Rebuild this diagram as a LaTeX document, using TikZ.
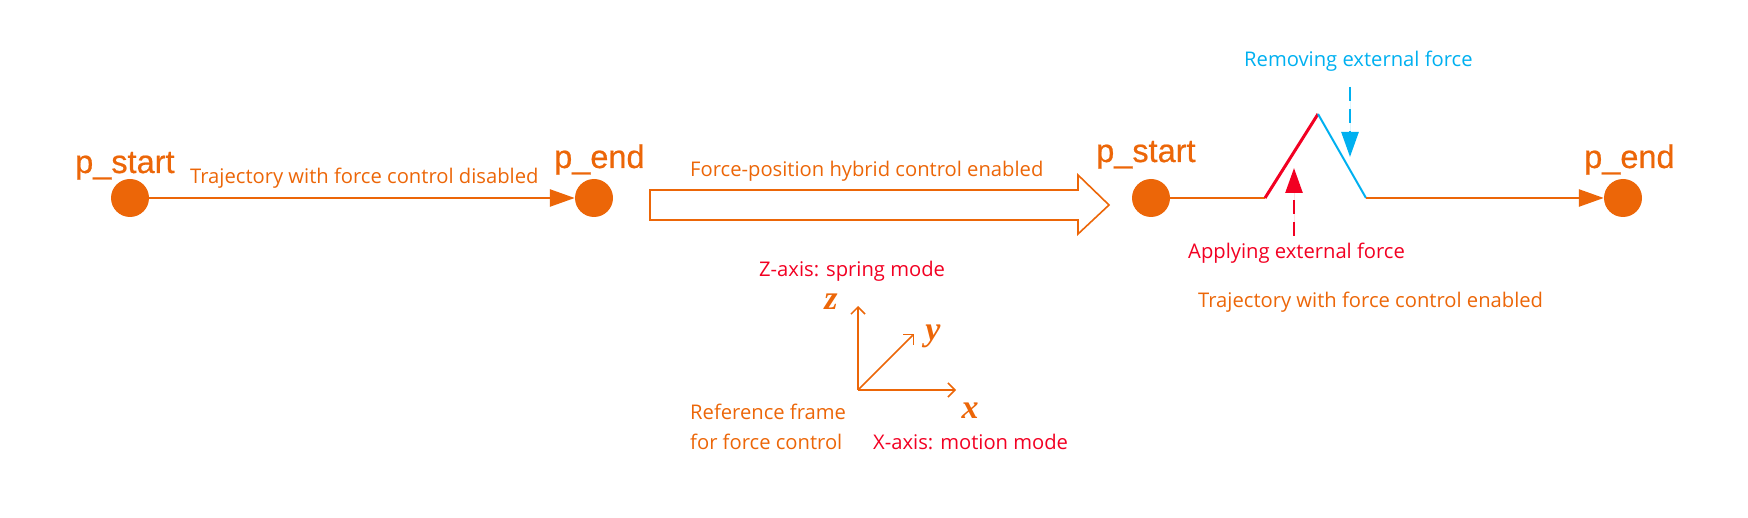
\documentclass[tikz,border=0pt]{standalone}
\usepackage{fontspec}
\setmainfont{Open Sans}
\newfontfamily\labfont[FakeBold=0.6]{Liberation Sans}
\newfontfamily\axfont{Liberation Serif}
\usetikzlibrary{arrows.meta}
\definecolor{ora}{RGB}{236,102,8}
\definecolor{rd}{RGB}{242,0,34}
\definecolor{bl}{RGB}{0,176,240}
\tikzset{
  dot/.style={circle,fill=ora,draw=none,minimum size=38pt,inner sep=0pt},
  ptlabel/.style={anchor=base west,inner sep=0pt,text=ora,font=\labfont\fontsize{32.5}{36}\selectfont},
  txt/.style={anchor=base west,inner sep=0pt,font=\fontsize{20.2}{24}\selectfont},
  traj/.style={draw=ora,line width=2.6pt,-{Triangle[length=25pt,width=17pt]}},
  seg/.style={line width=2.6pt},
  forcearrow/.style={line width=2.6pt,dash pattern=on 14pt off 8pt,-{Triangle[length=25pt,width=17pt]}},
  axis/.style={draw=ora,line width=1.5pt,-{Straight Barb[length=7pt,width=14pt,line width=1.5pt]}},
  axlabel/.style={text=ora,inner sep=0pt,font=\axfont\bfseries\itshape\fontsize{34}{36}\selectfont}
}
\begin{document}
\begin{tikzpicture}[x=1pt,y=-1pt]
\useasboundingbox (0,0) rectangle (1748,518);
% left trajectory
\node[dot] (ps1) at (130,198) {};
\node[dot] (pe1) at (594,198) {};
\node[ptlabel] (lps1) at (75,173) {p\_start};
\node[ptlabel] (lpe1) at (554,168) {p\_end};
\draw[traj] (ps1) -- (pe1);
\node[txt,text=ora] (t1) at (190,184) {Trajectory with force control disabled};
% hollow arrow
\draw[draw=ora,line width=1.6pt,line join=miter]
  (650,190) -- (1078,190) -- (1078,175) -- (1109,205) -- (1078,234) -- (1078,220) -- (650,220) -- cycle;
\node[txt,text=ora] (t2) at (690,177) {Force-position hybrid control enabled};
% right trajectory
\node[dot] (ps2) at (1151,198) {};
\node[dot] (pe2) at (1623,198) {};
\node[ptlabel] (lps2) at (1096,162) {p\_start};
\node[ptlabel] (lpe2) at (1584,168) {p\_end};
\coordinate (k1) at (1265,198);
\coordinate (k2) at (1318,114);
\coordinate (k3) at (1366,198);
\draw[seg,draw=ora] (ps2) -- (k1);
\draw[seg,draw=rd,line width=3pt] (k1) -- (k2);
\draw[seg,draw=bl,line width=2pt] (k2) -- (k3);
\draw[traj] (k3) -- (pe2);
% force arrows
\coordinate (af0) at (1294,236);
\coordinate (af1) at (1294,168);
\draw[forcearrow,draw=rd,fill=rd] (af0) -- (af1);
\coordinate (rf0) at (1350,87);
\coordinate (rf1) at (1350,157);
\draw[forcearrow,draw=bl,fill=bl] (rf0) -- (rf1);
\node[txt,text=bl] (t3) at (1244,67) {Removing external force};
\node[txt,text=rd] (t4) at (1188,259) {Applying external force};
\node[txt,text=ora] (t5) at (1198,308) {Trajectory with force control enabled};
% axes
\coordinate (o) at (858,390);
\coordinate (ze) at (858,306);
\coordinate (xe) at (956,390);
\coordinate (ye) at (914,334);
\draw[axis] (o) -- (ze);
\draw[axis] (o) -- (xe);
\draw[axis] (o) -- (ye);
\node[axlabel] (lz) at (831,302) {z};
\node[axlabel] (ly) at (933,336) {y};
\node[axlabel] (lx) at (970,411) {x};
\node[txt,text=rd] (t6) at (759,277) {Z-axis: spring mode};
\node[txt,text=ora] (t7) at (690,420) {Reference frame};
\node[txt,text=ora] (t8) at (690,449) {for force control};
\node[txt,text=rd] (t9) at (873,449) {X-axis: motion mode};
\end{tikzpicture}
\end{document}
